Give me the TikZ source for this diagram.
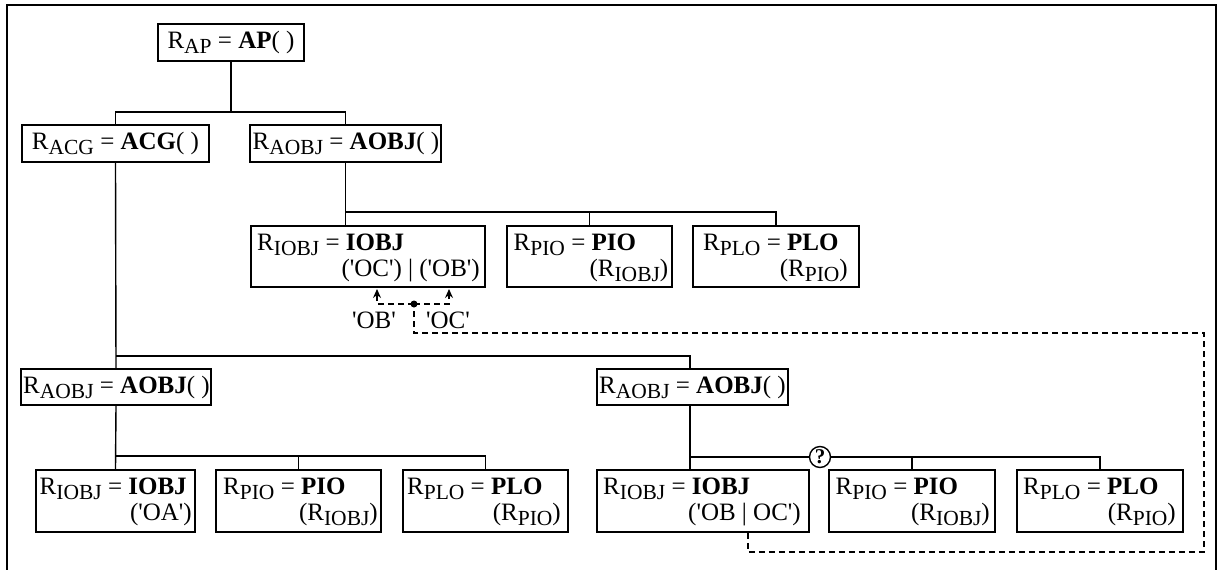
\documentclass[tikz,border=0pt]{standalone}
\usepackage{fontspec}
\setmainfont{Liberation Serif}
\usetikzlibrary{arrows.meta,calc}
\newcommand\sbs[1]{\raisebox{-5pt}{\fontsize{21.5}{22}\selectfont #1}}
\newcommand\qt{\textquotesingle}
\begin{document}
\begin{tikzpicture}[x=1pt,y=-1pt,
  box/.style={draw, line width=1.8pt, inner sep=0pt},
  txt/.style={inner sep=0pt, font=\fontsize{25}{30}\selectfont},
  conn/.style={line width=1.4pt},
  dsh/.style={line width=1.4pt, dash pattern=on 6pt off 4pt},
  tip/.style={-{Stealth[length=9pt,width=8pt,inset=3pt]}},
]
\useasboundingbox (0,0) rectangle (1218,570);
% frame
\draw[line width=1.6pt] (7,570) -- (7,5) -- (1216,5) -- (1216,570);

% boxes
\node[box, minimum width=146pt, minimum height=37pt] (ap)    at (231,42.5) {};
\node[box, minimum width=187pt, minimum height=37pt] (acg)   at (115.5,143.5) {};
\node[box, minimum width=191pt, minimum height=37pt] (aobj1) at (345.5,143.5) {};
\node[box, minimum width=234pt, minimum height=61pt] (iobj1) at (368,256.5) {};
\node[box, minimum width=165pt, minimum height=61pt] (pio1)  at (589.5,256.5) {};
\node[box, minimum width=166pt, minimum height=61pt] (plo1)  at (776,256.5) {};
\node[box, minimum width=190pt, minimum height=36pt] (aobj2) at (116,387) {};
\node[box, minimum width=191pt, minimum height=36pt] (aobj2b) at (692.5,387) {};
\node[box, minimum width=159pt, minimum height=62pt] (iobjA) at (115.5,501) {};
\node[box, minimum width=165pt, minimum height=62pt] (pio2)  at (298.5,501) {};
\node[box, minimum width=165pt, minimum height=62pt] (plo2)  at (485.5,501) {};
\node[box, minimum width=212pt, minimum height=62pt] (iobjB) at (703,501) {};
\node[box, minimum width=166pt, minimum height=62pt] (pio2b) at (912,501) {};
\node[box, minimum width=166pt, minimum height=62pt] (plo2b) at (1100,501) {};

% single-line texts
\node[txt, anchor=base] (apT)    at (231,48.5)  {R\sbs{AP} = \textbf{AP}( )};
\node[txt, anchor=base] (acgT)   at (115.5,149.5) {R\sbs{ACG} = \textbf{ACG}( )};
\node[txt, anchor=base] (aobj1T) at (346,149.5) {R\sbs{AOBJ} = \textbf{AOBJ}( )};
\node[txt, anchor=base] (aobj2T) at (116.5,393) {R\sbs{AOBJ} = \textbf{AOBJ}( )};
\node[txt, anchor=base] (aobj2bT) at (692.5,393) {R\sbs{AOBJ} = \textbf{AOBJ}( )};

% two-line texts
\node[txt, anchor=base west] (iobj1T) at (257,250) {R\sbs{IOBJ} = \textbf{IOBJ}};
\node[txt, anchor=base east] (iobj1U) at (480,276) {(\qt OC\qt) | (\qt OB\qt)};
\node[txt, anchor=base west] (pio1T) at (513.5,250) {R\sbs{PIO} = \textbf{PIO}};
\node[txt, anchor=base east] (pio1U) at (668.5,276) {(R\sbs{IOBJ})};
\node[txt, anchor=base west] (plo1T) at (703,250) {R\sbs{PLO} = \textbf{PLO}};
\node[txt, anchor=base east] (plo1U) at (848,276) {(R\sbs{PIO})};

\node[txt, anchor=base west] (iobjAT) at (39.5,494) {R\sbs{IOBJ} = \textbf{IOBJ}};
\node[txt, anchor=base east] (iobjAU) at (192,520) {(\qt OA\qt)};
\node[txt, anchor=base west] (pio2T) at (223,494) {R\sbs{PIO} = \textbf{PIO}};
\node[txt, anchor=base east] (pio2U) at (378,520) {(R\sbs{IOBJ})};
\node[txt, anchor=base west] (plo2T) at (407,494) {R\sbs{PLO} = \textbf{PLO}};
\node[txt, anchor=base east] (plo2U) at (561,520) {(R\sbs{PIO})};

\node[txt, anchor=base west] (iobjBT) at (603,494) {R\sbs{IOBJ} = \textbf{IOBJ}};
\node[txt, anchor=base east] (iobjBU) at (801,520) {(\qt OB | OC\qt)};
\node[txt, anchor=base west] (pio2bT) at (835.5,494) {R\sbs{PIO} = \textbf{PIO}};
\node[txt, anchor=base east] (pio2bU) at (990,520) {(R\sbs{IOBJ})};
\node[txt, anchor=base west] (plo2bT) at (1023,494) {R\sbs{PLO} = \textbf{PLO}};
\node[txt, anchor=base east] (plo2bU) at (1176,520) {(R\sbs{PIO})};

% tree connectors
\coordinate (j1) at (231,112);
\draw[conn] (ap.south) -- (j1);
\draw[conn] (acg.north) |- (j1) -| (aobj1.north);

\coordinate (j2) at (345.5,212);
\draw[conn] (aobj1.south) -- (aobj1.south |- iobj1.north);
\draw[conn] (j2) -| (pio1.north);
\draw[conn] (j2) -| (plo1.north);

\coordinate (j3) at (116,356);
\coordinate (j5) at (690,457);
\draw[conn] (acg.south) -- (aobj2.north);
\draw[conn] (j3) -| (j5 |- aobj2b.north);

\coordinate (j4) at (116,456);
\draw[conn] (aobj2.south) -- (iobjA.north);
\draw[conn] (j4) -| (pio2.north);
\draw[conn] (j4) -| (plo2.north);

\draw[conn] (j5 |- aobj2b.south) -- (j5 |- iobjB.north);
\draw[conn] (j5) -| (pio2b.north);
\draw[conn] (j5) -| (plo2b.north);
\node[circle, draw, fill=white, line width=1.4pt, inner sep=0pt, minimum size=21pt,
      font=\fontsize{21}{21}\selectfont\bfseries] (q) at (820,457) {?};

% dashed feedback
\node[circle, fill, inner sep=0pt, minimum size=7pt] (dot) at (414,304) {};
\coordinate (d0) at ($(iobjB.south)+(45,0)$);
\coordinate (c1) at (1204,552);
\coordinate (c2) at (1204,333);
\draw[dsh] (d0) |- (c1) -- (c2) -| (dot.center);
\coordinate (a1) at (377,289);
\coordinate (a2) at (449,289);
\draw[dsh,tip] (dot.center) -| (a1);
\draw[dsh,tip] (dot.center) -| (a2);
\node[txt, anchor=base] (lob) at (374,328) {\qt OB\qt};
\node[txt, anchor=base] (loc) at (448,328) {\qt OC\qt};
\end{tikzpicture}
\end{document}
